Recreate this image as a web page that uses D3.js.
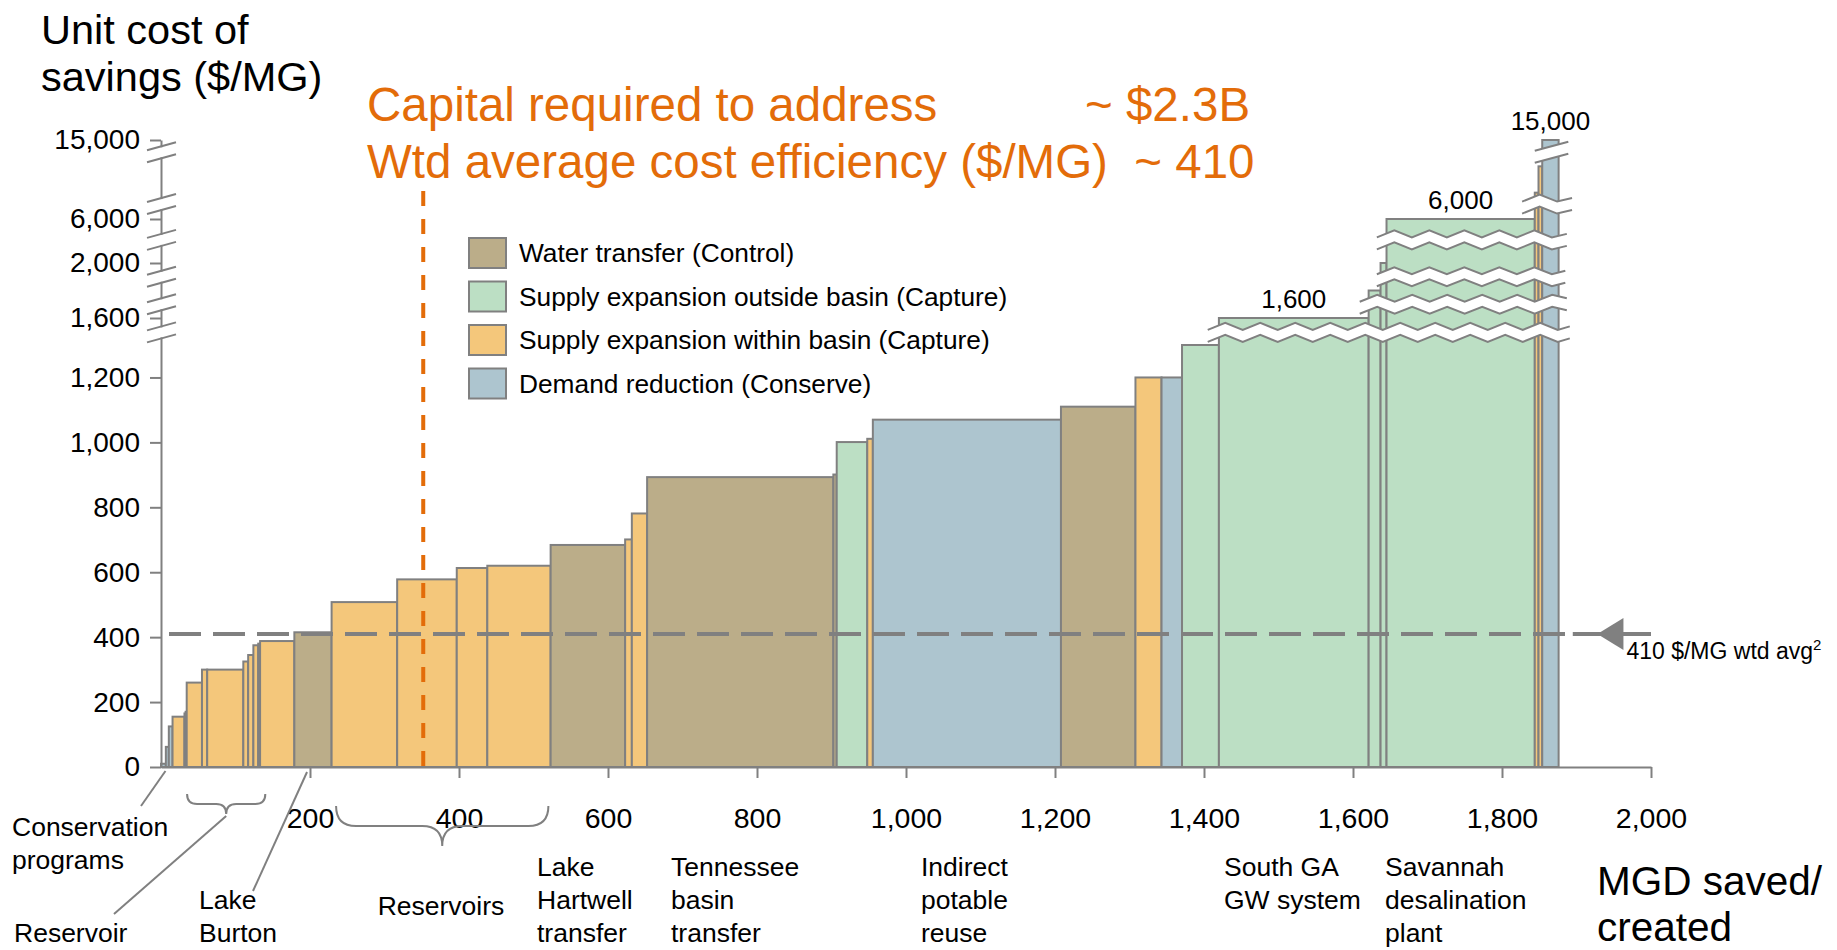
<!DOCTYPE html>
<html>
<head>
<meta charset="utf-8">
<script src="https://cdn.jsdelivr.net/npm/d3@7"></script>
<style>
  body { margin: 0; background: #fff; }
  text { font-family: "Liberation Sans", Arial, sans-serif; }
</style>
</head>
<body>
<div id="chart"></div>
<script>
// Options along the cost curve: width = MGD saved/created, cost = $/MG
const widths = [6.5, 4, 5, 16, 1.5, 1.5, 20.5, 7, 48.5, 6.5, 7, 6.5, 2.5, 46, 50, 88, 80, 41, 85, 100,
  9, 20.5, 250, 4.5, 41, 7.5, 252.5, 100, 35, 27.5, 49.5, 201, 16, 8, 199, 5, 5, 22];
const costs = [10, 62, 125, 155, 165, 170, 260, 300, 300, 325, 345, 375, 380, 388, 415, 508, 578, 613, 620, 684,
  701, 781, 893, 901, 1001, 1011, 1070, 1110, 1200, 1200, 1300, 1600, 1800, 2000, 6000, 9000, 12000, 15000];
const types = ["B", "B", "B", "O", "O", "O", "O", "O", "O", "O", "O", "O", "O", "O", "T", "O", "O", "O", "O", "T",
  "O", "O", "T", "T", "G", "O", "B", "T", "O", "B", "G", "G", "G", "G", "G", "O", "O", "B"];

// Legend categories
const typeKeys = ["T", "G", "O", "B"];
const typeNames = ["Water transfer (Control)", "Supply expansion outside basin (Capture)",
  "Supply expansion within basin (Capture)", "Demand reduction (Conserve)"];
const typeColors = ["#bbad89", "#bcdfc4", "#f4c77b", "#adc5cf"];

// Axis ticks
const xTicks = [200, 400, 600, 800, 1000, 1200, 1400, 1600, 1800, 2000];
const yTicks = [0, 200, 400, 600, 800, 1000, 1200, 1600, 2000, 6000, 15000];

// Axis breaks (value on y, extent on x)
const breakValues = [1440, 1700, 1900, 4100, 7700, 13600];
const breakFrom = [1405, 1609, 1632, 1632, 1827, 1844];
const breakTo = [1891, 1887, 1885, 1887, 1894, 1889];
const breakWavy = [true, true, true, true, true, false];

// Labelled bars on top of the broken part
const topLabels = [1600, 6000, 15000];

const avgCost = 410;
const capitalMark = 352;

const W = 1837, H = 950;
const orange = "#e36c09", grey = "#808080";

const svg = d3.select("#chart")
  .append("svg")
    .attr("width", W)
    .attr("height", H);

const x = d3.scaleLinear().domain([0, 2000]).range([161, 1651]);
// broken y axis: linear to 1300, then compressed segments
const y = d3.scaleLinear()
  .domain([0, 1300, 1600, 2000, 6000, 15000])
  .range([767, 345, 318, 263, 219, 140]);

const color = d3.scaleOrdinal().domain(typeKeys).range(typeColors);

const ends = d3.cumsum(widths);
const bars = widths.map((w, i) => ({ x0: ends[i] - w, x1: ends[i], cost: costs[i], type: types[i] }));

// Bars
svg.append("g")
  .selectAll("rect")
  .data(bars)
  .join("rect")
    .attr("x", d => x(d.x0))
    .attr("y", d => y(d.cost))
    .attr("width", d => x(d.x1) - x(d.x0))
    .attr("height", d => y(0) - y(d.cost))
    .attr("fill", d => color(d.type))
    .attr("stroke", grey)
    .attr("stroke-width", 2);

// Y axis
const yAxis = svg.append("g")
  .attr("transform", `translate(${x(0)},0)`)
  .call(d3.axisLeft(y).tickValues(yTicks).tickFormat(d3.format(",")).tickSize(11).tickSizeOuter(0).tickPadding(10));
yAxis.select(".domain").attr("stroke", grey).attr("stroke-width", 2);
yAxis.selectAll(".tick line").attr("stroke", grey).attr("stroke-width", 2);
yAxis.selectAll(".tick text").style("font-size", "28px").attr("fill", "#000");

// X axis
const xAxis = svg.append("g")
  .attr("transform", `translate(0,${y(0)})`)
  .call(d3.axisBottom(x).tickValues(xTicks).tickFormat(d3.format(",")).tickSize(11).tickSizeOuter(0).tickPadding(30));
xAxis.select(".domain").attr("stroke", grey).attr("stroke-width", 2);
xAxis.selectAll(".tick line").attr("stroke", grey).attr("stroke-width", 2);
xAxis.selectAll(".tick text").style("font-size", "28.5px").attr("fill", "#000");

// Axis breaks: white band with wavy (or straight) edges
const zig = (xa, xb, yc, amp) => {
  const pts = [];
  const period = 35;
  for (let px = xa, k = 0; px < xb; px += period / 2, k++) pts.push([px, yc + (k % 2 ? -amp : amp)]);
  pts.push([xb, yc]);
  return pts;
};
const gap = 6;
breakValues.forEach((v, i) => {
  const yc = y(v);
  const xa = x(breakFrom[i]), xb = x(breakTo[i]);
  const amp = breakWavy[i] ? 3.5 : 0;
  const tilt = breakWavy[i] ? 0 : 4.5;
  let top = zig(xa, xb, yc - gap, amp), bot = zig(xa, xb, yc + gap, amp);
  if (!breakWavy[i]) {
    top = [[xa, yc - gap + tilt], [xb, yc - gap - tilt]];
    bot = [[xa, yc + gap + tilt], [xb, yc + gap - tilt]];
  }
  svg.append("path")
    .attr("d", d3.line()(top.concat(bot.slice().reverse())) + "Z")
    .attr("fill", "#fff");
  [top, bot].forEach(p => svg.append("path")
    .attr("d", d3.line()(p))
    .attr("fill", "none")
    .attr("stroke", grey)
    .attr("stroke-width", 2));

  // y axis slashes
  svg.append("rect")
    .attr("x", x(0) - 3).attr("y", yc - gap + 1)
    .attr("width", 6).attr("height", 2 * gap - 2)
    .attr("fill", "#fff");
  [-gap, gap].forEach(o => svg.append("line")
    .attr("x1", x(0) - 14).attr("y1", yc + o + 4)
    .attr("x2", x(0) + 15).attr("y2", yc + o - 4)
    .attr("stroke", grey).attr("stroke-width", 2));
});

// Values above the broken bars
svg.append("g")
  .selectAll("text")
  .data(bars.filter(d => topLabels.includes(d.cost)))
  .join("text")
    .attr("x", d => x((d.x0 + d.x1) / 2))
    .attr("y", d => y(d.cost) - 10)
    .attr("text-anchor", "middle")
    .style("font-size", "26px")
    .text(d => d3.format(",")(d.cost));

// Weighted average line
svg.append("line")
  .attr("x1", x(0) + 8).attr("x2", x(1895))
  .attr("y1", y(avgCost)).attr("y2", y(avgCost))
  .attr("stroke", grey).attr("stroke-width", 4)
  .attr("stroke-dasharray", "32,12");
svg.append("line")
  .attr("x1", x(1895)).attr("x2", x(2000))
  .attr("y1", y(avgCost)).attr("y2", y(avgCost))
  .attr("stroke", grey).attr("stroke-width", 4);
svg.append("path")
  .attr("d", `M${x(1928)},${y(avgCost)} L${x(1963)},${y(avgCost) - 16} L${x(1963)},${y(avgCost) + 16}Z`)
  .attr("fill", grey);
const avgText = svg.append("text")
  .attr("x", x(1967)).attr("y", y(avgCost) + 25)
  .style("font-size", "23px");
avgText.append("tspan").text("410 $/MG wtd avg");
avgText.append("tspan").attr("dy", -9).style("font-size", "15px").text("2");

// Capital marker
svg.append("line")
  .attr("x1", x(capitalMark)).attr("x2", x(capitalMark))
  .attr("y1", 191).attr("y2", y(0))
  .attr("stroke", orange).attr("stroke-width", 4)
  .attr("stroke-dasharray", "15,13");

svg.append("text").attr("x", 367).attr("y", 121)
  .attr("fill", orange).style("font-size", "47.5px")
  .text("Capital required to address");
svg.append("text").attr("x", 1085).attr("y", 121)
  .attr("fill", orange).style("font-size", "47.5px")
  .text("~ $2.3B");
svg.append("text").attr("x", 367).attr("y", 178)
  .attr("fill", orange).style("font-size", "47.5px")
  .style("white-space", "pre")
  .text("Wtd average cost efficiency ($/MG)  ~ 410");

// Y axis title
svg.append("text").attr("x", 41).attr("y", 44).style("font-size", "41.5px").text("Unit cost of");
svg.append("text").attr("x", 41).attr("y", 91).style("font-size", "41.5px").text("savings ($/MG)");

// X axis title
svg.append("text").attr("x", 1597).attr("y", 895).style("font-size", "40.5px").text("MGD saved/");
svg.append("text").attr("x", 1597).attr("y", 941).style("font-size", "40.5px").text("created");

// Legend
const legend = svg.append("g")
  .selectAll("g")
  .data(typeKeys)
  .join("g")
    .attr("transform", (d, i) => `translate(469,${253 + i * 43.5})`);
legend.append("rect")
  .attr("x", 0).attr("y", -15)
  .attr("width", 37).attr("height", 30)
  .attr("fill", d => color(d))
  .attr("stroke", grey).attr("stroke-width", 2);
legend.append("text")
  .attr("x", 50).attr("y", 9)
  .style("font-size", "26.3px")
  .text((d, i) => typeNames[i]);

// Option names under the axis
const optionNames = [
  { lines: ["Conservation", "programs"], x: 12, y: 836 },
  { lines: ["Reservoir"], x: 14, y: 942 },
  { lines: ["Lake", "Burton"], x: 199, y: 909 },
  { lines: ["Reservoirs"], x: 441, y: 915, anchor: "middle" },
  { lines: ["Lake", "Hartwell", "transfer"], x: 537, y: 876 },
  { lines: ["Tennessee", "basin", "transfer"], x: 671, y: 876 },
  { lines: ["Indirect", "potable", "reuse"], x: 921, y: 876 },
  { lines: ["South GA", "GW system"], x: 1224, y: 876 },
  { lines: ["Savannah", "desalination", "plant"], x: 1385, y: 876 }
];
optionNames.forEach(o => {
  const t = svg.append("text")
    .attr("x", o.x).attr("y", o.y)
    .attr("text-anchor", o.anchor || "start")
    .style("font-size", "26.5px");
  o.lines.forEach((l, i) => t.append("tspan").attr("x", o.x).attr("dy", i ? 33 : 0).text(l));
});

// Braces and pointers
const brace = (xa, xb, y0, h) => {
  const m = (xa + xb) / 2, q = h / 2;
  return `M${xa},${y0} Q${xa},${y0 + q} ${xa + q},${y0 + q} L${m - q},${y0 + q} Q${m},${y0 + q} ${m},${y0 + h}` +
    ` Q${m},${y0 + q} ${m + q},${y0 + q} L${xb - q},${y0 + q} Q${xb},${y0 + q} ${xb},${y0}`;
};
svg.append("path").attr("d", brace(x(35), x(140), 794, 20))
  .attr("fill", "none").attr("stroke", grey).attr("stroke-width", 2);
svg.append("path").attr("d", brace(x(235), x(520), 806, 40))
  .attr("fill", "none").attr("stroke", grey).attr("stroke-width", 2);

const pointers = [
  [141, 806, x(6), y(0) + 4],
  [114, 914, (x(35) + x(140)) / 2, 816],
  [253, 891, x(196), y(0) + 5]
];
svg.append("g")
  .selectAll("line")
  .data(pointers)
  .join("line")
    .attr("x1", d => d[0]).attr("y1", d => d[1])
    .attr("x2", d => d[2]).attr("y2", d => d[3])
    .attr("stroke", grey).attr("stroke-width", 2);
</script>
</body>
</html>
